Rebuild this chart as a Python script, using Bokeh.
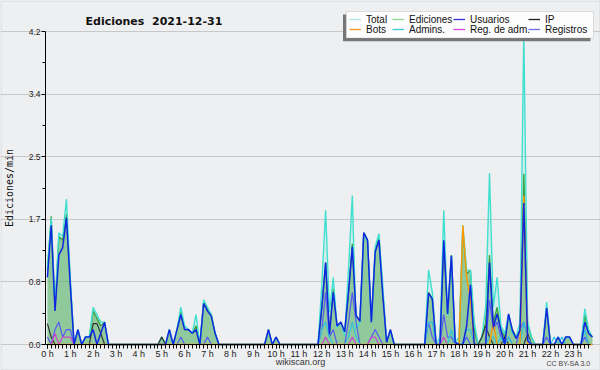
from bokeh.plotting import figure
from bokeh.models import (Range1d, FixedTicker, Legend, LegendItem, Label,
                          BoxAnnotation, ColumnDataSource, PrintfTickFormatter)
from bokeh.embed import file_html
from bokeh.resources import INLINE

# 10-minute slots of 2021-12-31, values in edits per minute
hour_labels = [f"{h} h" for h in range(24)]

total = [
    1.0, 1.7, 0.5, 1.5, 1.45, 1.95,   0.9, 0, 0.2, 0, 0.1, 0.1,
    0.5, 0.4, 0.3, 0.3, 0, 0,          0, 0, 0, 0, 0, 0,
    0, 0, 0, 0, 0, 0,                  0.1, 0, 0.2, 0, 0.2, 0.5,
    0.25, 0.2, 0.15, 0.4, 0, 0.6,      0.5, 0.4, 0.15, 0, 0, 0,
    0, 0, 0, 0, 0, 0,                  0, 0, 0, 0, 0.2, 0,
    0.1, 0, 0, 0, 0, 0,                0, 0, 0, 0, 0, 0,
    0.8, 1.8, 0.43, 0.9, 0.23, 0.3,    0.12, 1.0, 2.0, 0.21, 0.3, 1.49,
    1.37, 0.3, 1.31, 1.49, 0.79, 0.03, 0.19, 0, 0, 0, 0, 0,
    0, 0, 0, 0, 1.0, 0.7,              0, 0.1, 1.8, 0.39, 1.19, 0.03,
    0.1, 1.6, 1.0, 0.99, 0.3, 0,       0.1, 0.5, 2.3, 0.5, 0.9, 0.25,
    0.15, 0.4, 0.15, 0.1, 0.3, 4.2,    0.3, 0.1, 0, 0, 0, 0.57,
    0, 0, 0.1, 0, 0.1, 0.1,            0, 0, 0, 0.48, 0.2, 0.1,
]
ediciones = [
    1.0, 1.72, 0.5, 1.45, 1.4, 1.75,   0.85, 0, 0.2, 0, 0.1, 0.1,
    0.45, 0.35, 0.25, 0.3, 0, 0,       0, 0, 0, 0, 0, 0,
    0, 0, 0, 0, 0, 0,                  0.1, 0, 0.2, 0, 0.2, 0.45,
    0.2, 0.2, 0.15, 0.25, 0, 0.58,     0.48, 0.4, 0.15, 0, 0, 0,
    0, 0, 0, 0, 0, 0,                  0, 0, 0, 0, 0.2, 0,
    0.1, 0, 0, 0, 0, 0,                0, 0, 0, 0, 0, 0,
    0.5, 1.1, 0.15, 0.75, 0.25, 0.3,   0.17, 0.7, 1.35, 0.39, 0.31, 1.5,
    1.4, 0.3, 1.25, 1.45, 0.7, 0.03,   0.2, 0, 0, 0, 0, 0,
    0, 0, 0, 0, 0.7, 0.62,             0, 0, 1.4, 0.41, 1.2, 0.03,
    0, 1.55, 0.95, 1.0, 0.2, 0,        0.1, 0.3, 1.2, 0.3, 0.5, 0.2,
    0.1, 0.4, 0.2, 0.1, 0.2, 2.29,     0.28, 0.1, 0, 0, 0, 0.5,
    0, 0, 0.1, 0, 0.1, 0.1,            0, 0, 0, 0.4, 0.15, 0.1,
]
usuarios = [
    0.9, 1.6, 0.45, 1.2, 1.3, 1.7,     0.8, 0, 0.2, 0, 0.1, 0.1,
    0.2, 0, 0.15, 0.3, 0, 0,           0, 0, 0, 0, 0, 0,
    0, 0, 0, 0, 0, 0,                  0, 0, 0.2, 0, 0.2, 0.4,
    0.2, 0.2, 0.15, 0.2, 0, 0.55,      0.45, 0.38, 0.15, 0, 0, 0,
    0, 0, 0, 0, 0, 0,                  0, 0, 0, 0, 0.2, 0,
    0.1, 0, 0, 0, 0, 0,                0, 0, 0, 0, 0, 0,
    0.5, 1.1, 0.14, 0.7, 0.25, 0.3,    0.17, 0.7, 1.31, 0.39, 0.31, 1.5,
    1.4, 0.3, 1.24, 1.4, 0.66, 0.03,   0.2, 0, 0, 0, 0, 0,
    0, 0, 0, 0, 0.69, 0.61,            0, 0, 1.4, 0.41, 1.19, 0.03,
    0, 0, 0.25, 0.8, 0, 0,             0, 0, 1.1, 0.23, 0.41, 0.19,
    0, 0.41, 0.19, 0.08, 0.19, 1.9,    0.05, 0, 0, 0, 0, 0.49,
    0, 0, 0.1, 0, 0.1, 0.1,            0, 0, 0, 0.3, 0.15, 0.1,
]
ip = [
    0.28, 0.1, 0, 0, 0, 0,   0, 0, 0, 0, 0, 0,
    0.28, 0.28, 0.15, 0, 0, 0, 0, 0, 0, 0, 0, 0,
    0, 0, 0, 0, 0, 0,        0.1, 0, 0, 0, 0, 0,
    0, 0, 0, 0, 0, 0,        0, 0, 0, 0, 0, 0,
    0, 0, 0, 0, 0, 0,        0, 0, 0, 0, 0, 0,
    0, 0, 0, 0, 0, 0,        0, 0, 0, 0, 0, 0,
    0, 0, 0, 0, 0, 0,        0, 0, 0, 0, 0, 0,
    0, 0, 0, 0, 0, 0,        0, 0, 0, 0, 0, 0,
    0, 0, 0, 0, 0, 0,        0, 0, 0, 0, 0, 0,
    0, 0, 0, 0, 0, 0,        0.1, 0.25, 0.1, 0, 0, 0,
    0.1, 0, 0, 0, 0, 0,      0.15, 0, 0, 0, 0, 0,
    0, 0, 0, 0, 0, 0,        0, 0, 0, 0, 0, 0,
]
bots = [0] * 108 + [0, 1.6, 0.9, 0.6, 0, 0,  0, 0, 0, 0.3, 0, 0,
                    0, 0, 0, 0, 0, 2.0] + [0] * 18
admins = [0] * 72 + [
    0.2, 0.3, 0.1, 0, 0, 0,   0, 0.1, 0.3, 0.1, 0, 0,
    0, 0, 0, 0, 0, 0,         0, 0, 0, 0, 0, 0,
    0, 0, 0, 0, 0.3, 0.3,     0, 0, 0, 0, 0.2, 0,
    0, 0, 0.2, 0.2, 0, 0,     0, 0, 0.1, 0.1, 0, 0.1,
    0, 0.1, 0, 0, 0, 0.3,     0.1, 0, 0, 0, 0, 0,
    0, 0.1, 0, 0.1, 0, 0,     0, 0, 0, 0.2, 0, 0,
]
reg_adm = [
    0, 0, 0.15, 0, 0.1, 0.1,  0.1, 0, 0, 0, 0, 0,
] + [0] * 60 + [
    0, 0.1, 0, 0, 0, 0,       0, 0, 0.1, 0, 0, 0,
    0, 0.1, 0.1, 0, 0, 0,     0, 0, 0, 0, 0, 0,
    0, 0, 0, 0, 0, 0,         0, 0, 0.1, 0, 0, 0,
] + [0] * 36
registros = [
    0.1, 0, 0.2, 0.3, 0.1, 0.2,  0.2, 0, 0, 0, 0, 0,
    0, 0, 0, 0, 0, 0,            0, 0, 0, 0, 0, 0,
    0, 0, 0, 0, 0, 0,            0, 0, 0, 0, 0, 0.1,
    0, 0, 0, 0, 0, 0,            0.1, 0, 0, 0, 0, 0,
    0, 0, 0, 0, 0, 0,            0, 0, 0, 0, 0, 0,
    0, 0, 0, 0, 0, 0,            0, 0, 0, 0, 0, 0,
    0.2, 0.7, 0.1, 0.2, 0, 0,    0, 0.3, 0.7, 0.3, 0, 0,
    0, 0.1, 0.2, 0.1, 0, 0,      0, 0, 0, 0, 0, 0,
    0, 0, 0, 0, 0.3, 0.1,        0, 0, 0.4, 0.1, 0.1, 0,
    0, 0, 0.1, 0, 0, 0,          0, 0, 0.6, 0.2, 0.3, 0.1,
    0, 0.1, 0, 0, 0.2, 0.3,      0.1, 0, 0, 0, 0, 0.1,
    0, 0, 0, 0, 0, 0,            0, 0, 0, 0.1, 0, 0,
]
slots = list(range(len(total)))

y_ticks = [0, 0.84, 1.68, 2.52, 3.36, 4.2]
y_minor = [0.42, 1.26, 2.1, 2.94, 3.78]

legend_names = ["Total", "Ediciones", "Usuarios", "IP",
                "Bots", "Admins.", "Reg. de adm.", "Registros"]

BG = "#eeeff1"
FONT = "Liberation Sans"
W, H = 600, 370
FL, FR, FT, FB = 45, 590, 31, 344          # visible plotting frame (pixels)
X0, X1 = -0.5, 142.5                         # slot range shown in that frame
Y0, Y1 = 0.0, 4.2
kx = (FR - FL) / (X1 - X0)
ky = (FB - FT) / (Y1 - Y0)

src = ColumnDataSource(dict(x=slots, total=total, ed=ediciones, us=usuarios,
                            ip=ip, bots=bots, adm=admins, radm=reg_adm,
                            reg=registros, zero=[0] * len(slots)))

p = figure(width=W, height=H, output_backend="svg", toolbar_location=None,
           x_range=Range1d(X0 - FL / kx, X1 + (W - FR) / kx),
           y_range=Range1d(Y0 - (H - FB) / ky, Y1 + FT / ky),
           min_border=0, background_fill_color=BG, border_fill_color=BG,
           outline_line_color=None)
p.title.visible = False

# areas and lines
p.varea(x="x", y1="zero", y2="total", source=src, fill_color="#40e0d0", fill_alpha=0.15)
p.varea(x="x", y1="zero", y2="ed", source=src, fill_color="#3ca03c", fill_alpha=0.45)
p.line(x="x", y="ed", source=src, line_color="#38a038", line_width=1.3)
p.line(x="x", y="total", source=src, line_color="#40e0d0", line_width=1.4)
p.line(x="x", y="ip", source=src, line_color="#333333", line_width=1.2)
p.line(x="x", y="reg", source=src, line_color="#5a5af0", line_width=1.2)
p.line(x="x", y="radm", source=src, line_color="#cc44cc", line_width=1.2)
p.line(x="x", y="adm", source=src, line_color="#30c0e0", line_width=1.2)
p.line(x="x", y="bots", source=src, line_color="#ff9900", line_width=1.4)
p.line(x="x", y="us", source=src, line_color="#1026e0", line_width=1.5)

# axes, fixed at the data origin so they take no side space
p.xaxis.fixed_location = 0
p.xaxis.bounds = (X0, X1)
p.xaxis.ticker = FixedTicker(ticks=[6 * h for h in range(24)],
                             minor_ticks=list(range(143)))
p.xaxis.major_label_overrides = {6 * h: lab for h, lab in enumerate(hour_labels)}
p.xaxis.major_tick_out = 4
p.xaxis.major_tick_in = 0
p.xaxis.minor_tick_out = 4
p.xaxis.minor_tick_in = 0
p.xaxis.major_label_standoff = 0
p.xaxis.major_label_text_font = FONT
p.xaxis.major_label_text_font_size = "9px"
p.xaxis.major_label_text_color = "#222222"

p.yaxis.fixed_location = X0
p.yaxis.bounds = (Y0, Y1)
p.yaxis.ticker = FixedTicker(ticks=y_ticks, minor_ticks=y_minor)
p.yaxis.formatter = PrintfTickFormatter(format="%.1f")
p.yaxis.major_tick_out = 4
p.yaxis.major_tick_in = 0
p.yaxis.minor_tick_out = 3
p.yaxis.minor_tick_in = 0
p.yaxis.major_label_standoff = 1
p.yaxis.major_label_text_font = FONT
p.yaxis.major_label_text_font_size = "8.5px"
p.yaxis.major_label_text_color = "#222222"
p.yaxis.axis_label = "Ediciones/min"
p.yaxis.axis_label_text_font = "DejaVu Sans Mono"
p.yaxis.axis_label_text_font_size = "10px"
p.yaxis.axis_label_text_font_style = "normal"
p.yaxis.axis_label_text_color = "#111111"
p.yaxis.axis_label_standoff = 11

for ax in (p.xaxis, p.yaxis):
    ax.axis_line_color = "black"
    ax.major_tick_line_color = "black"
    ax.minor_tick_line_color = "black"

p.xgrid.visible = False
p.ygrid.grid_line_color = "#c8c8c8"
p.ygrid.bounds = (X0, X1)

# title and footer texts (screen pixels from bottom-left of canvas)
p.add_layout(Label(x=85, y=H - 20.7, x_units="screen", y_units="screen",
                   text="Ediciones\u00a0 2021-12-31", text_baseline="alphabetic",
                   text_font="DejaVu Sans", text_font_size="11px",
                   text_font_style="bold", text_color="#111111"))
p.add_layout(Label(x=300, y=H - 366, x_units="screen", y_units="screen",
                   text="wikiscan.org", text_align="center", text_baseline="bottom",
                   text_font=FONT, text_font_size="9px", text_color="#333333"))
p.add_layout(Label(x=590, y=H - 366, x_units="screen", y_units="screen",
                   text="CC BY-SA 3.0", text_align="right", text_baseline="bottom",
                   text_font=FONT, text_font_size="7px", text_color="#444444"))

# legend box with its shadow
def screen_box(l, r, t, b, **kw):
    return BoxAnnotation(left=l, right=r, top=H - t, bottom=H - b,
                         left_units="screen", right_units="screen",
                         top_units="screen", bottom_units="screen", **kw)

p.add_layout(screen_box(342.5, 590, 14, 40.7, fill_color="#777777",
                        fill_alpha=1.0, line_color=None))
p.add_layout(screen_box(345.7, 593, 11, 37.5, fill_color="#fdfdfd",
                        fill_alpha=1.0, line_color="#999999", line_width=1))

# one legend per entry, so each column gets its own width as in the original
leg_colors = ["#b0e6e0", "#90d890", "#3333dd", "#222222",
              "#ff9922", "#33ccdd", "#dd44dd", "#6f6fef"]
col_x = [349, 392, 453, 528]
row_y = [18.8, 29.2]      # vertical centres of the two rows (pixels from top)
ITEM_H = 11.5
for k, (name, col) in enumerate(zip(legend_names, leg_colors)):
    r = p.line(x=[-100, -99], y=[-100, -100], line_color=col, line_width=1.3)
    lg = Legend(items=[LegendItem(label=name, renderers=[r])],
                location=(col_x[k % 4], H - row_y[k // 4] - ITEM_H / 2),
                glyph_width=12, glyph_height=10, label_standoff=5,
                spacing=0, padding=0, margin=0,
                label_text_font=FONT, label_text_font_size="10px",
                label_height=10, label_text_color="#111111",
                border_line_color=None, background_fill_alpha=0)
    p.add_layout(lg)

# outer frame of the image
p.add_layout(screen_box(0, W, 0, H, fill_alpha=0, line_color="#aaaaaa",
                        line_width=2))

open("out.html", "w").write(file_html(p, INLINE))
